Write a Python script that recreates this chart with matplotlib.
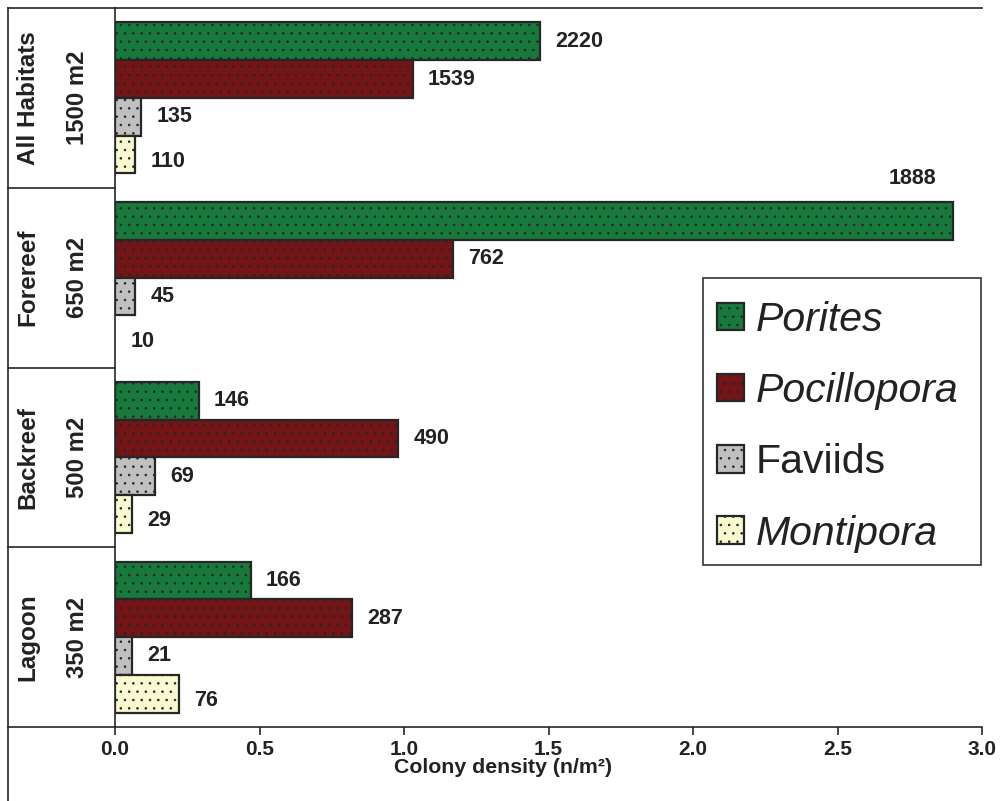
import numpy as np
import matplotlib
matplotlib.use('Agg')
import matplotlib.pyplot as plt
from matplotlib.lines import Line2D
from matplotlib.patches import Rectangle


# data

habitats = ['All Habitats', 'Forereef', 'Backreef', 'Lagoon']
areas = ['1500 m2', '650 m2', '500 m2', '350 m2']

taxa = ['Porites', 'Pocillopora', 'Faviids', 'Montipora']
italic = [True, True, False, True]

# colony density (n/m2), one value per habitat
porites = [1.47, 2.90, 0.29, 0.47]
pocillopora = [1.03, 1.17, 0.98, 0.82]
faviids = [0.09, 0.07, 0.14, 0.06]
montipora = [0.07, np.nan, 0.06, 0.22]

# colony counts shown as labels
porites_n = [2220, 1888, 146, 166]
pocillopora_n = [1539, 762, 490, 287]
faviids_n = [135, 45, 69, 21]
montipora_n = [110, 10, 29, 76]

x_ticks = [0.0, 0.5, 1.0, 1.5, 2.0, 2.5, 3.0]


# plot

colors = ['#18793d', '#731417', '#c0c0c0', '#fafad0']
edge = '#262626'
ink = '#222222'
bar_height = 0.21
group_pad = 0.08

plt.rcParams['font.family'] = ['Liberation Sans', 'DejaVu Sans']
plt.rcParams['hatch.linewidth'] = 0.6


def bar_centers(j):
    n = len(habitats)
    tops = np.arange(n, 0, -1)
    return tops - group_pad - bar_height * j - bar_height / 2


def plot_bars(ax):
    series = [porites, pocillopora, faviids, montipora]
    counts = [porites_n, pocillopora_n, faviids_n, montipora_n]
    handles = []
    for j, (values, ns) in enumerate(zip(series, counts)):
        y = bar_centers(j)
        values = np.asarray(values, dtype=float)
        keep = ~np.isnan(values)
        bars = ax.barh(y[keep], values[keep], height=bar_height, color=colors[j],
                       edgecolor=edge, linewidth=1.6, hatch='..', label=taxa[j])
        handles.append(bars)
        for yy, v, n in zip(y, values, ns):
            v = 0.0 if np.isnan(v) else v
            if v > 2.5:
                ax.annotate(str(n), xy=(v, yy + bar_height / 2), xytext=(-29, 17),
                            textcoords='offset points', ha='center', va='center',
                            fontsize=15.5, fontweight='bold', color=ink)
            else:
                dy = -5 if j == 3 else 0
                ax.annotate(str(n), xy=(v, yy), xytext=(11, dy),
                            textcoords='offset points', ha='left', va='center',
                            fontsize=15.5, fontweight='bold', color=ink)
    return handles


def plot_frame(fig, ax):
    col_left = -0.1234
    trans = ax.get_yaxis_transform()
    n = len(habitats)
    # label column separators and extended top / bottom lines
    for b in range(n + 1):
        ax.plot([col_left, 0], [b, b], transform=trans, color=edge,
                linewidth=1.2, clip_on=False)
    fig.add_artist(Line2D([8 / 1001, 8 / 1001], [0, 1 - 8 / 801],
                          transform=fig.transFigure, color=edge, linewidth=1.2))
    # habitat names
    for i, (h, a) in enumerate(zip(habitats, areas)):
        yc = n - i - 0.5
        ax.text(-0.1000, yc, h, transform=trans, rotation=90, ha='center',
                va='center', fontsize=17.5, fontweight='bold', color=ink)
        ax.text(-0.0438, yc, a, transform=trans, rotation=90, ha='center',
                va='center', fontsize=17.2, fontweight='bold', color=ink)


def plot_legend(ax, handles):
    box = Rectangle((0.6782, 0.2253), 0.3206, 0.3992, transform=ax.transAxes,
                    facecolor='white', edgecolor='#333333', linewidth=1.2, zorder=4)
    ax.add_patch(box)
    leg = ax.legend(handles, taxa, loc='upper left', bbox_to_anchor=(0.6943, 0.5925),
                    fontsize=29.5, frameon=False, borderpad=0, handlelength=0.65,
                    handleheight=0.65, handletextpad=0.3, labelspacing=0.81,
                    borderaxespad=0)
    leg.set_zorder(5)
    for text, it in zip(leg.get_texts(), italic):
        text.set_color(ink)
        if it:
            text.set_fontstyle('italic')


def show_chart():
    fig = plt.figure(figsize=(10.01, 8.01), dpi=100)
    ax = fig.add_axes([115 / 1001, 74 / 801, 867 / 1001, 719 / 801])

    handles = plot_bars(ax)

    ax.set_xlim(0, 3.0)
    ax.set_ylim(0, len(habitats))
    ax.set_xticks(x_ticks)
    ax.set_xticklabels([f'{t:.1f}' for t in x_ticks], fontsize=15,
                       fontweight='bold', color=ink)
    ax.set_yticks([])
    ax.tick_params(axis='x', direction='out', length=6, width=1.2,
                   color=edge, pad=3.5)
    ax.spines['right'].set_visible(False)
    for s in ['top', 'left', 'bottom']:
        ax.spines[s].set_color(edge)
        ax.spines[s].set_linewidth(1.2)

    ax.set_xlabel('Colony density (n/m²)', fontsize=15.3, fontweight='bold',
                  color=ink)
    ax.xaxis.set_label_coords(0.4475, -0.043)

    plot_frame(fig, ax)
    plot_legend(ax, handles)

    fig.savefig('out.png', dpi=100)


# main

if __name__ == '__main__':
    show_chart()
